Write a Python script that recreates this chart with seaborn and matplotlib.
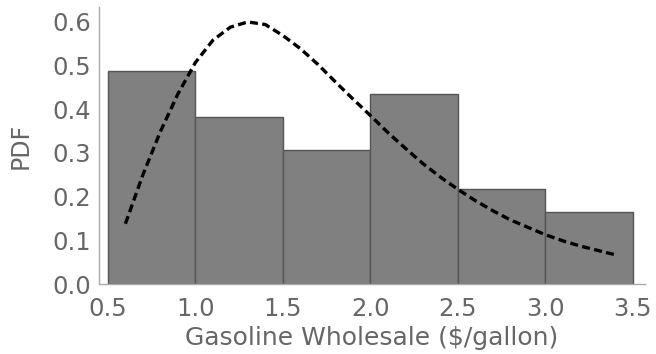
import numpy as np
import pandas as pd
import matplotlib
matplotlib.use("Agg")
import matplotlib.pyplot as plt
import seaborn as sns
from matplotlib.ticker import MultipleLocator

# Histogram of wholesale gasoline prices (density per $0.50 bin)
bin_edges = [0.5, 1.0, 1.5, 2.0, 2.5, 3.0, 3.5]
bin_density = [0.488, 0.382, 0.307, 0.435, 0.218, 0.165]

# Fitted probability density curve
curve_x = [0.6, 0.7, 0.8, 0.9, 1.0, 1.1, 1.2, 1.3, 1.4, 1.5, 1.6, 1.7, 1.8,
           1.9, 2.0, 2.1, 2.2, 2.3, 2.4, 2.5, 2.6, 2.7, 2.8, 2.9, 3.0, 3.1,
           3.2, 3.3, 3.4]
curve_pdf = [0.138, 0.250, 0.349, 0.435, 0.507, 0.558, 0.588, 0.600, 0.594,
             0.569, 0.539, 0.503, 0.463, 0.424, 0.386, 0.347, 0.311, 0.276,
             0.245, 0.217, 0.191, 0.168, 0.147, 0.130, 0.113, 0.099, 0.087,
             0.077, 0.067]

x_ticks = [0.5, 1.0, 1.5, 2.0, 2.5, 3.0, 3.5]
y_ticks = [0.0, 0.1, 0.2, 0.3, 0.4, 0.5, 0.6]

sns.set_theme(style="white")
plt.rcParams["font.family"] = ["DejaVu Sans"]

centers = [(a + b) / 2 for a, b in zip(bin_edges[:-1], bin_edges[1:])]
hist_df = pd.DataFrame({"price": centers, "density": bin_density})
curve_df = pd.DataFrame({"price": curve_x, "pdf": curve_pdf})

fig = plt.figure(figsize=(6.56, 3.54), dpi=100)
ax = fig.add_axes([0.1509, 0.1977, 0.983 - 0.1509, 0.980 - 0.1977])

sns.histplot(data=hist_df, x="price", weights="density", bins=bin_edges,
             stat="count", color="#808080", alpha=1.0, edgecolor="#555555",
             linewidth=1.0, ax=ax)
sns.lineplot(data=curve_df, x="price", y="pdf", color="black", linewidth=2.4,
             linestyle=(0, (2.4, 1.3)), ax=ax)

ax.set_xlim(0.449, 3.57)
ax.set_ylim(0.0, 0.634)
ax.set_xticks(x_ticks)
ax.set_yticks(y_ticks)
ax.set_xticklabels([f"{v:.1f}" for v in x_ticks])
ax.set_yticklabels([f"{v:.1f}" for v in y_ticks])
ax.xaxis.set_minor_locator(MultipleLocator(0.1))
ax.yaxis.set_minor_locator(MultipleLocator(0.02))

label_color = "#666666"
for side in ("top", "right"):
    ax.spines[side].set_visible(False)
for side in ("left", "bottom"):
    ax.spines[side].set_color("#aaaaaa")
    ax.spines[side].set_linewidth(1.0)

ax.tick_params(axis="both", which="major", direction="in", length=5,
               width=0.8, color="#aaaaaa", labelsize=17.5,
               labelcolor=label_color)
ax.tick_params(axis="both", which="minor", direction="in", length=3,
               width=0.6, color="#bbbbbb")
ax.tick_params(axis="x", which="major", pad=9)
ax.tick_params(axis="y", which="major", pad=6)

ax.set_xlabel("Gasoline Wholesale ($/gallon)", fontsize=18,
              color=label_color, labelpad=4)
ax.set_ylabel("PDF", fontsize=17, color=label_color, labelpad=14)

fig.savefig("out.png", dpi=100)
